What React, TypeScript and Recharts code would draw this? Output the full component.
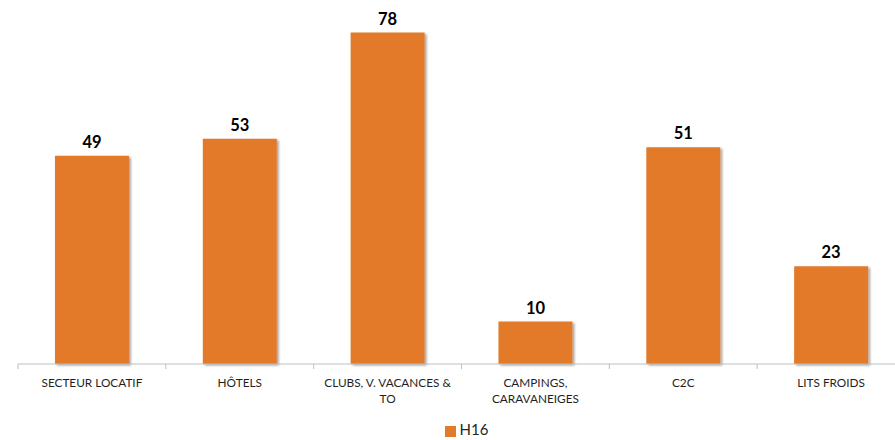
import React from "react";
import { BarChart, Bar, XAxis, YAxis, Legend, LabelList } from "recharts";

const categories = [
  "SECTEUR LOCATIF",
  "HÔTELS",
  "CLUBS, V. VACANCES & TO",
  "CAMPINGS, CARAVANEIGES",
  "C2C",
  "LITS FROIDS",
];
const h16Values = [49, 53, 78, 10, 51, 23];
const seriesName = "H16";

const data = categories.map((c, i) => ({ name: c, H16: h16Values[i] }));

const FONT = "Lato, 'Open Sans', sans-serif";
const ORANGE = "#E27A2C";

const CHART_W = 905;
const LEFT = 18;
const BAND = (CHART_W - LEFT) / categories.length;
const MAX_CHARS = 20;

function wrap(s: string): string[] {
  const words = s.split(" ");
  const lines: string[] = [];
  let cur = "";
  for (const w of words) {
    const next = cur ? cur + " " + w : w;
    if (next.length > MAX_CHARS && cur) {
      lines.push(cur);
      cur = w;
    } else cur = next;
  }
  if (cur) lines.push(cur);
  return lines;
}

const Tick = (props: any) => {
  const { x, y, payload } = props;
  const lines = wrap(String(payload.value));
  return (
    <g>
      <line x1={x - BAND / 2} y1={y - 8} x2={x - BAND / 2} y2={y - 3} stroke="#BFBFBF" strokeWidth={1} />
      <text x={x} y={y + 15} textAnchor="middle" fontSize={11.8} fontFamily={FONT} fill="#1f1f1f">
        {lines.map((l, i) => (
          <tspan key={i} x={x} dy={i === 0 ? 0 : 16}>
            {l}
          </tspan>
        ))}
      </text>
    </g>
  );
};

export default function App() {
  return (
    <div style={{ position: "absolute", left: 0, top: 0, width: 895, height: 440, overflow: "hidden", background: "#fff" }}>
      <BarChart
        width={CHART_W}
        height={440}
        data={data}
        margin={{ top: 24, right: 0, left: LEFT, bottom: 0 }}
        barCategoryGap="25%"
      >
        <defs>
          <filter id="shadow" x="-10%" y="-10%" width="130%" height="130%">
            <feDropShadow dx="2" dy="1.5" stdDeviation="1.2" floodColor="#000" floodOpacity="0.35" />
          </filter>
        </defs>
        <XAxis
          dataKey="name"
          height={56}
          axisLine={{ stroke: "#BFBFBF" }}
          tickLine={false}
          tick={<Tick />}
          interval={0}
        />
        <YAxis hide domain={[0, 80]} />
        <Legend
          verticalAlign="bottom"
          height={20}
          iconType="square"
          iconSize={11}
          wrapperStyle={{ left: 28, fontSize: 15, fontFamily: FONT }}
          formatter={(v: string) => (
            <span style={{ color: "#262626", fontSize: 15, fontFamily: FONT }}>{v}</span>
          )}
        />
        <Bar dataKey="H16" name={seriesName} fill={ORANGE} isAnimationActive={false} style={{ filter: "url(#shadow)" }}>
          <LabelList
            dataKey="H16"
            position="top"
            offset={8}
            fill="#000"
            fontSize={16.5}
            fontWeight="bold"
            fontFamily={FONT}
          />
        </Bar>
      </BarChart>
    </div>
  );
}
